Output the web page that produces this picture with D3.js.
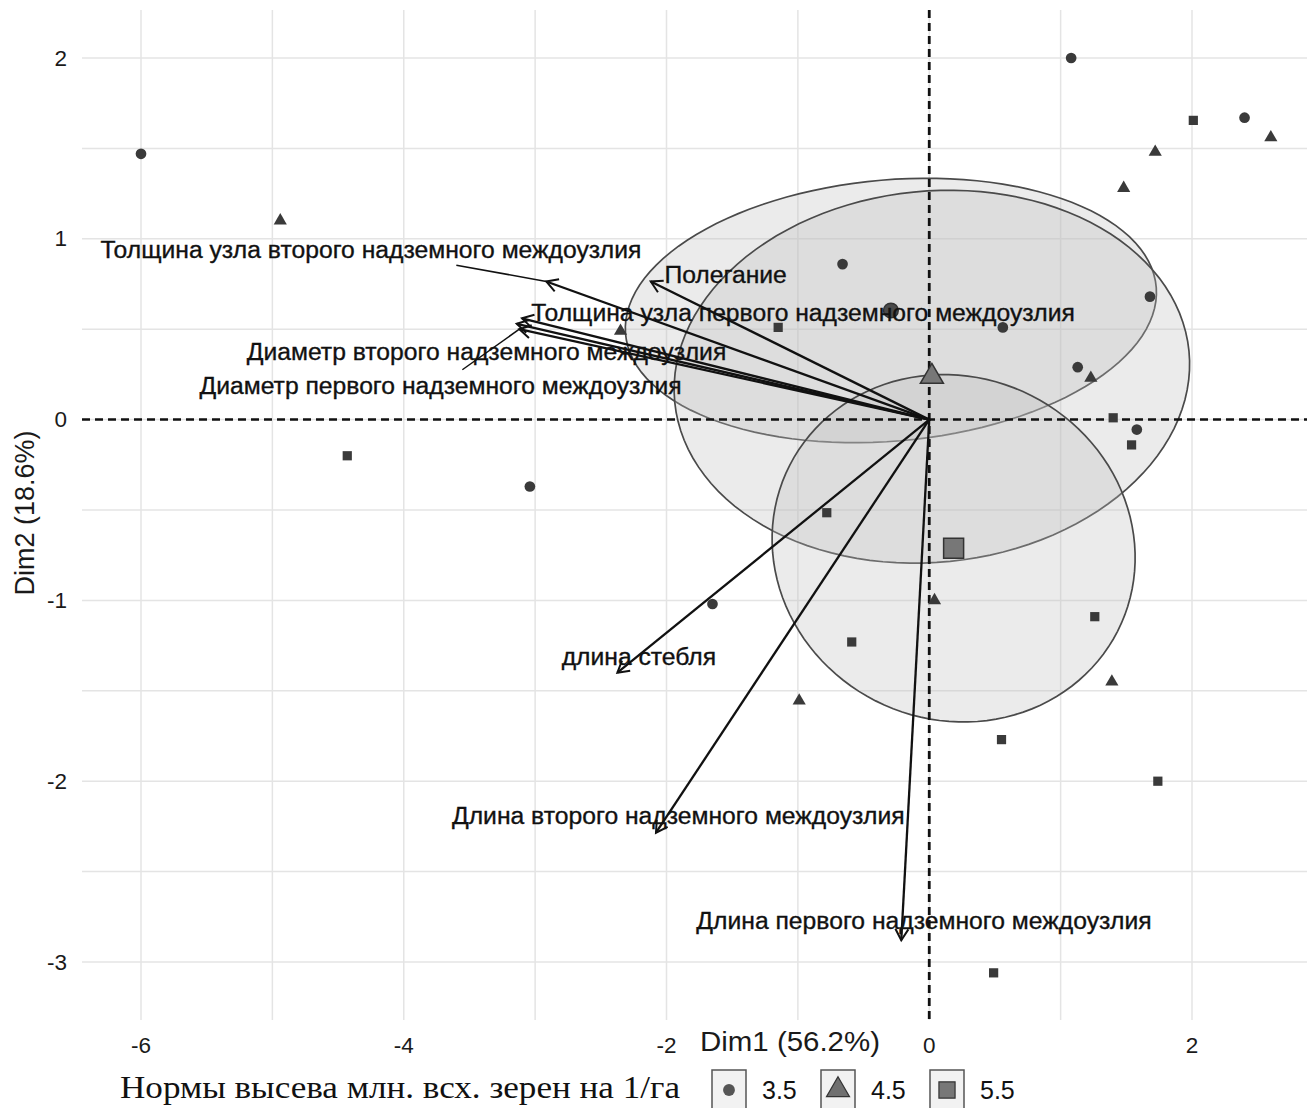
<!DOCTYPE html>
<html><head><meta charset="utf-8">
<script src="https://cdn.jsdelivr.net/npm/d3@7"></script>
<style>body{margin:0;background:#fff} svg{display:block}</style>
</head><body>
<svg id="chart" width="1307" height="1108"></svg>
<script>
// ---------- data ----------
const groupNames = ["3.5", "4.5", "5.5"];
const g35x = [-6.00, 1.08, 2.40, -0.66, 0.56, 1.68, 1.13, 1.58, -3.04, -1.65];
const g35y = [1.47, 2.00, 1.67, 0.86, 0.51, 0.68, 0.29, -0.055, -0.37, -1.02];
const g45x = [-4.94, 1.72, 1.48, 2.60, 1.23, -2.35, 0.04, -0.99, 1.39];
const g45y = [1.10, 1.48, 1.28, 1.56, 0.23, 0.49, -1.00, -1.555, -1.45];
const g55x = [2.01, -1.15, -4.43, 1.40, 1.54, -0.78, -0.59, 1.26, 0.55, 1.74, 0.49];
const g55y = [1.655, 0.51, -0.20, 0.01, -0.14, -0.515, -1.23, -1.09, -1.77, -2.00, -3.06];

const varNames = [
  "Толщина узла второго надземного междоузлия",
  "Полегание",
  "Толщина узла первого надземного междоузлия",
  "Диаметр второго надземного междоузлия",
  "Диаметр первого надземного междоузлия",
  "длина стебля",
  "Длина второго надземного междоузлия",
  "Длина первого надземного междоузлия"
];
const varX = [-2.915, -2.12, -3.10, -3.14, -3.12, -2.374, -2.08, -0.213];
const varY = [0.764, 0.764, 0.56, 0.53, 0.50, -1.40, -2.285, -2.88];
const varLabelX = [-4.25, -1.55, -0.96, -3.37, -3.72, -2.21, -1.91, -0.04];
const varLabelY = [0.94, 0.80, 0.59, 0.376, 0.19, -1.31, -2.19, -2.77];

const xTicks = [-6, -4, -2, 0, 2];
const yTicks = [-3, -2, -1, 0, 1, 2];
const xTitle = "Dim1 (56.2%)";
const yTitle = "Dim2 (18.6%)";
const legendTitle = "Нормы высева млн. всх. зерен на 1/га";

// ---------- setup ----------
const svg = d3.select("#chart");
const W = 1307, H = 1108;
const panel = {left: 82, right: 1307, top: 10, bottom: 1020};
const x = d3.scaleLinear().domain([-6, 2]).range([141, 1192]);
const y = d3.scaleLinear().domain([-3, 2]).range([962, 58]);
const sans = "'Liberation Sans', Arial, sans-serif";
const serif = "'Liberation Serif', 'Times New Roman', serif";

svg.append("rect").attr("width", W).attr("height", H).attr("fill", "#fff");

const groups = [
  {name: groupNames[0], xs: g35x, ys: g35y, shape: d3.symbolCircle},
  {name: groupNames[1], xs: g45x, ys: g45y, shape: d3.symbolTriangle},
  {name: groupNames[2], xs: g55x, ys: g55y, shape: d3.symbolSquare}
];

// ---------- grid ----------
const grid = svg.append("g");
const gx = d3.range(Math.ceil(x.invert(panel.left)), Math.floor(x.invert(panel.right)) + 1, 1);
const gy = d3.range(-3, 2.01, 0.5).filter(v => y(v) >= panel.top && y(v) <= panel.bottom);
grid.selectAll(".vx").data(gx).join("line")
  .attr("x1", d => x(d)).attr("x2", d => x(d))
  .attr("y1", panel.top).attr("y2", panel.bottom)
  .attr("stroke", "#e4e4e4").attr("stroke-width", 1.5);
grid.selectAll(".hy").data(gy).join("line")
  .attr("y1", d => y(d)).attr("y2", d => y(d))
  .attr("x1", panel.left).attr("x2", panel.right)
  .attr("stroke", "#e4e4e4").attr("stroke-width", 1.5);

// ---------- confidence ellipses ----------
function confEllipse(xs, ys) {
  const n = xs.length, mx = d3.mean(xs), my = d3.mean(ys);
  const sdx = d3.deviation(xs), sdy = d3.deviation(ys);
  const cov = d3.sum(xs.map((v, i) => (v - mx) * (ys[i] - my))) / (n - 1);
  let r = Math.max(-1, Math.min(1, cov / (sdx * sdy)));
  const d = Math.acos(r), t = Math.sqrt(5.991464547);
  const sx = sdx / Math.sqrt(n), sy = sdy / Math.sqrt(n);
  return d3.range(120).map(i => {
    const a = 2 * Math.PI * i / 120;
    return [mx + t * sx * Math.cos(a + d / 2), my + t * sy * Math.cos(a - d / 2)];
  });
}
const line = d3.line().x(d => x(d[0])).y(d => y(d[1])).curve(d3.curveLinearClosed);
const ell = svg.append("g");
groups.forEach(g => {
  ell.append("path").attr("d", line(confEllipse(g.xs, g.ys)))
    .attr("fill", "#bcbcbc").attr("fill-opacity", 0.3)
    .attr("stroke", "#4a4a4a").attr("stroke-width", 1.7);
});

// ---------- reference lines ----------
svg.append("line").attr("x1", panel.left).attr("x2", panel.right)
  .attr("y1", y(0)).attr("y2", y(0))
  .attr("stroke", "#111").attr("stroke-width", 2.5).attr("stroke-dasharray", "8,5");
svg.append("line").attr("x1", x(0)).attr("x2", x(0))
  .attr("y1", panel.top).attr("y2", panel.bottom)
  .attr("stroke", "#111").attr("stroke-width", 2.8).attr("stroke-dasharray", "8,5");

// ---------- points ----------
const ptSize = {"3.5": 90, "4.5": 75, "5.5": 85};
const meanSize = {"3.5": 170, "4.5": 230, "5.5": 400};
const pg = svg.append("g");
groups.forEach(g => {
  pg.selectAll(null).data(g.xs.map((v, i) => [v, g.ys[i]])).join("path")
    .attr("transform", d => `translate(${x(d[0])},${y(d[1])})`)
    .attr("d", d3.symbol().type(g.shape).size(ptSize[g.name]))
    .attr("fill", "#3a3a3a");
  const m = [d3.mean(g.xs), d3.mean(g.ys)];
  pg.append("path")
    .attr("transform", `translate(${x(m[0])},${y(m[1])})`)
    .attr("d", d3.symbol().type(g.shape).size(meanSize[g.name])())
    .attr("fill", g.name === "3.5" ? "#4a4a4a" : "#777")
    .attr("stroke", "#333").attr("stroke-width", 1.5);
});

// ---------- variable arrows ----------
const ag = svg.append("g");
const ox = x(0), oy = y(0);
varNames.forEach((nm, i) => {
  const tx = x(varX[i]), ty = y(varY[i]);
  ag.append("line").attr("x1", ox).attr("y1", oy).attr("x2", tx).attr("y2", ty)
    .attr("stroke", "#111").attr("stroke-width", 2.3);
  const ang = Math.atan2(oy - ty, ox - tx), L = 13, sp = Math.PI / 6;
  const p1 = [tx + L * Math.cos(ang + sp), ty + L * Math.sin(ang + sp)];
  const p2 = [tx + L * Math.cos(ang - sp), ty + L * Math.sin(ang - sp)];
  ag.append("path").attr("d", `M${p1}L${tx},${ty}L${p2}`)
    .attr("fill", "none").attr("stroke", "#111").attr("stroke-width", 2);
});

// ---------- variable labels ----------
const lg = svg.append("g");
varNames.forEach((nm, i) => {
  const lx = x(varLabelX[i]), ly = y(varLabelY[i]);
  const t = lg.append("text").attr("x", lx).attr("y", ly)
    .attr("text-anchor", "middle").attr("dominant-baseline", "central")
    .attr("font-family", sans).attr("font-size", 24.7).attr("fill", "#111")
    .attr("stroke", "#111").attr("stroke-width", 0.35)
    .text(nm);
  const b = t.node().getBBox();
  const pad = 4;
  const bx0 = b.x - pad, bx1 = b.x + b.width + pad, by0 = b.y + 2 - pad, by1 = b.y + b.height - 2 + pad;
  const tx = x(varX[i]), ty = y(varY[i]);
  if (tx >= bx0 && tx <= bx1 && ty >= by0 && ty <= by1) return;
  const dx = lx - tx, dy = ly - ty;
  let tmin = 1;
  [[bx0, "x"], [bx1, "x"], [by0, "y"], [by1, "y"]].forEach(([v, axis]) => {
    const tt = axis === "x" ? (v - tx) / dx : (v - ty) / dy;
    if (tt > 0 && tt < tmin) {
      const px = tx + tt * dx, py = ty + tt * dy;
      if (px >= bx0 - 0.01 && px <= bx1 + 0.01 && py >= by0 - 0.01 && py <= by1 + 0.01) tmin = tt;
    }
  });
  const ex = tx + tmin * dx, ey = ty + tmin * dy;
  if (Math.hypot(ex - tx, ey - ty) > 22) {
    lg.insert("line", "text").attr("x1", tx).attr("y1", ty).attr("x2", ex).attr("y2", ey)
      .attr("stroke", "#111").attr("stroke-width", 1.5);
  }
});

// ---------- axes labels ----------
const ax = svg.append("g").attr("font-family", sans).attr("fill", "#1a1a1a");
ax.selectAll(".xt").data(xTicks).join("text")
  .attr("x", d => x(d)).attr("y", 1053).attr("text-anchor", "middle")
  .attr("font-size", 22.5).text(d => d);
ax.selectAll(".yt").data(yTicks).join("text")
  .attr("x", 67).attr("y", d => y(d)).attr("text-anchor", "end")
  .attr("dominant-baseline", "central").attr("font-size", 22.5).text(d => d);
ax.append("text").attr("x", 700).attr("y", 1051).attr("font-size", 28)
  .attr("textLength", 180).attr("lengthAdjust", "spacingAndGlyphs").text(xTitle);
ax.append("text").attr("transform", "translate(34,513) rotate(-90)")
  .attr("text-anchor", "middle").attr("font-size", 27).text(yTitle);

// ---------- legend ----------
const leg = svg.append("g");
leg.append("text").attr("x", 120).attr("y", 1098).attr("font-family", serif)
  .attr("font-size", 31).attr("fill", "#111")
  .attr("textLength", 560).attr("lengthAdjust", "spacingAndGlyphs").text(legendTitle);
const keyFill = {"3.5": "#555", "4.5": "#707070", "5.5": "#777"};
const keySize = {"3.5": 110, "4.5": 230, "5.5": 260};
groups.forEach((g, i) => {
  const kx = 712 + i * 109, ky = 1070;
  leg.append("rect").attr("x", kx).attr("y", ky).attr("width", 34).attr("height", 46)
    .attr("fill", "#f2f2f2").attr("stroke", "#555").attr("stroke-width", 1.5);
  leg.append("path").attr("transform", `translate(${kx + 17},${ky + 20})`)
    .attr("d", d3.symbol().type(g.shape).size(keySize[g.name])())
    .attr("fill", keyFill[g.name]).attr("stroke", g.name === "3.5" ? "none" : "#333")
    .attr("stroke-width", 1.2);
  leg.append("text").attr("x", kx + 50).attr("y", 1099).attr("font-family", sans)
    .attr("font-size", 25).attr("fill", "#111").text(g.name);
});
</script>
</body></html>
